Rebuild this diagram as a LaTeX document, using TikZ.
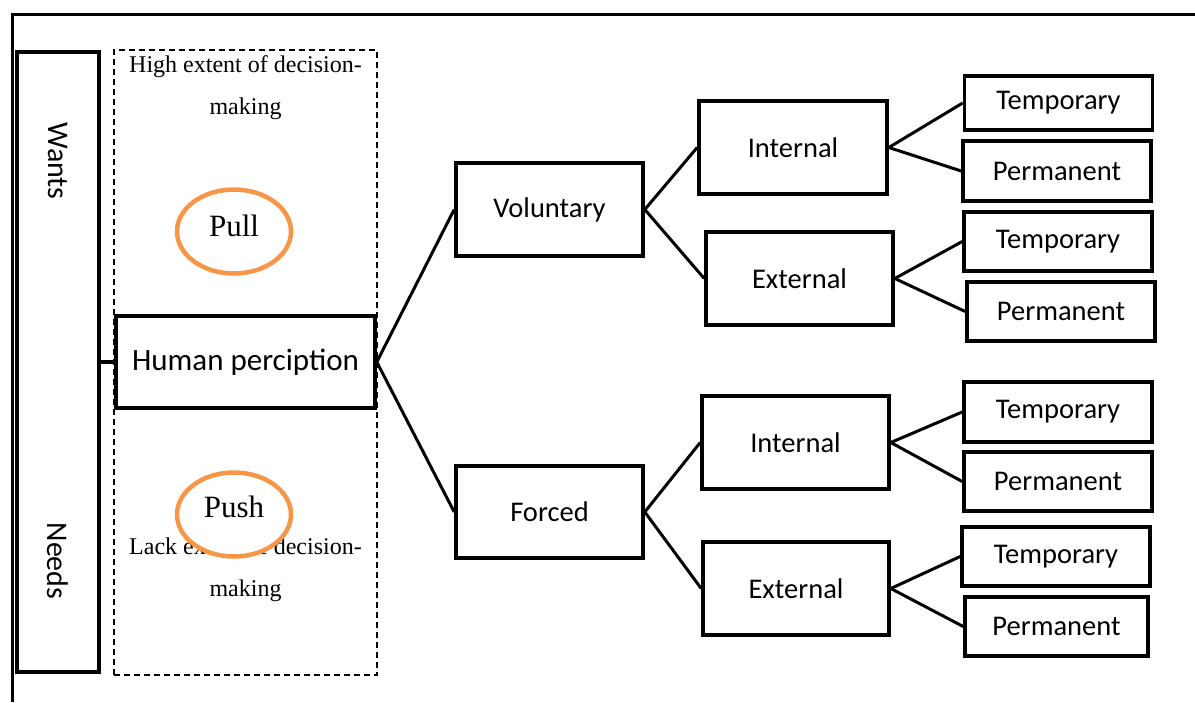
\documentclass[tikz,border=0pt]{standalone}
\usepackage{fontspec}
\setmainfont{Liberation Serif}
\newfontfamily\boxfont{Carlito}
\usetikzlibrary{shapes.geometric}
\begin{document}
\begin{tikzpicture}[x=1pt,y=-1pt,
  box/.style={draw,line width=3.6pt,inner sep=0pt,font=\boxfont\fontsize{28.5}{32}\selectfont},
  leaf/.style={box,minimum width=188pt},
  link/.style={line width=3pt},
  motive/.style={ellipse,draw=orangeline,fill=white,line width=4.5pt,minimum width=114pt,minimum height=84pt,inner sep=0pt},
  note/.style={align=center,font=\fontsize{24}{42}\selectfont,inner sep=0pt}]
\definecolor{orangeline}{HTML}{F79646}
\useasboundingbox (0,0) rectangle (1195,702);
% outer frame (top and left edges)
\draw[line width=3pt] (12,702) -- (12,14) -- (1195,14);

% wants / needs bar
\node[box,minimum width=82pt,minimum height=620pt] (bar) at (58,362) {};
\node[font=\boxfont\fontsize{30}{34}\selectfont,rotate=-90] (wants) at (58,161) {Wants};
\node[font=\boxfont\fontsize{30}{34}\selectfont,rotate=-90] (needs) at (58,561) {Needs};

% dashed region with pull / push
\node[draw,line width=2.4pt,dash pattern=on 6pt off 4pt,minimum width=263pt,minimum height=625pt,inner sep=0pt] (region) at (245.5,362.5) {};
\node[note] (high) at (245.5,88) {High extent of decision-\\making};
\node[note] (lack) at (245.5,570) {Lack extent of decision-\\making};
\node[motive] (pull) at (234,231.5) {};
\node[font=\fontsize{31}{34}\selectfont] (pulltext) at (234,226) {Pull};
\node[motive] (push) at (234,514.5) {};
\node[font=\fontsize{31}{34}\selectfont] (pushtext) at (234,507) {Push};

% main tree
\node[box,minimum width=259pt,minimum height=92pt,font=\boxfont\fontsize{31}{34}\selectfont] (hp) at (245.5,362) {Human perciption};
\node[box,minimum width=187pt,minimum height=93pt] (vol) at (549.5,209.5) {Voluntary};
\node[box,minimum width=187pt,minimum height=92pt] (for) at (549.5,512) {Forced};
\node[box,minimum width=188pt,minimum height=93pt] (vint) at (793,147.5) {Internal};
\node[box,minimum width=187pt,minimum height=93pt] (vext) at (799.5,278.5) {External};
\node[box,minimum width=187pt,minimum height=93pt] (fint) at (795.5,442.5) {Internal};
\node[box,minimum width=186pt,minimum height=93pt] (fext) at (796,588.5) {External};

\node[leaf,minimum height=54pt] (t1) at (1058.5,103) {Temporary};
\node[leaf,minimum height=60pt] (p1) at (1057,171) {Permanent};
\node[leaf,minimum height=59pt] (t2) at (1058,241.5) {Temporary};
\node[leaf,minimum height=59pt] (p2) at (1061,311.5) {Permanent};
\node[leaf,minimum height=60pt] (t3) at (1058,412) {Temporary};
\node[leaf,minimum height=59pt] (p3) at (1058,481.5) {Permanent};
\node[leaf,minimum height=59pt] (t4) at (1056,556.5) {Temporary};
\node[leaf,minimum width=183pt,minimum height=59pt] (p4) at (1056.5,626.5) {Permanent};

% connectors
\draw[line width=4pt] (bar.east) -- (hp.west);
\draw[link] (hp.east) -- (vol.west);
\draw[link] (hp.east) -- (for.west);
\draw[link] (vol.east) -- (vint.west);
\draw[link] (vol.east) -- (vext.west);
\draw[link] (for.east) -- (fint.west);
\draw[link] (for.east) -- (fext.west);
\draw[link] (vint.east) -- (t1.west);
\draw[link] (vint.east) -- (p1.west);
\draw[link] (vext.east) -- (t2.west);
\draw[link] (vext.east) -- (p2.west);
\draw[link] (fint.east) -- (t3.west);
\draw[link] (fint.east) -- (p3.west);
\draw[link] (fext.east) -- (t4.west);
\draw[link] (fext.east) -- (p4.west);
\end{tikzpicture}
\end{document}
